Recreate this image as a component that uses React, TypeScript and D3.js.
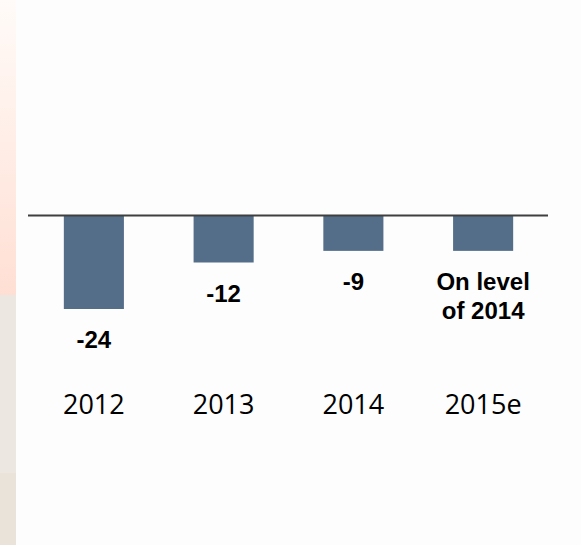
import { useEffect, useRef } from "react";
import * as d3 from "d3";

const years = ["2012", "2013", "2014", "2015e"];
const values = [-24, -12, -9, -9];
const valueLabels = [["-24"], ["-12"], ["-9"], ["On level", "of 2014"]];

const App = () => {
  const svgRef = useRef(null);

  useEffect(() => {
    if (!svgRef.current) return;
    const svg = d3.select(svgRef.current);
    svg.selectAll("*").remove();

    const width = 581;
    const height = 545;
    svg.attr("width", width).attr("height", height);

    // left decorative strip
    const defs = svg.append("defs");
    const grad = defs
      .append("linearGradient")
      .attr("id", "stripGrad")
      .attr("x1", 0)
      .attr("x2", 0)
      .attr("y1", 0)
      .attr("y2", 1);
    grad.append("stop").attr("offset", "0%").attr("stop-color", "#fffbf8");
    grad.append("stop").attr("offset", "100%").attr("stop-color", "#ffdfd4");

    svg.append("rect").attr("width", width).attr("height", height).attr("fill", "#fdfdfd");
    svg.append("rect").attr("x", 0).attr("y", 0).attr("width", 16).attr("height", 295).attr("fill", "url(#stripGrad)");
    svg.append("rect").attr("x", 0).attr("y", 295).attr("width", 16).attr("height", 178).attr("fill", "#ece8e1");
    svg.append("rect").attr("x", 0).attr("y", 473).attr("width", 16).attr("height", 72).attr("fill", "#e9e3da");

    const x = d3
      .scaleBand()
      .domain(years)
      .range([29, 548])
      .paddingInner(0.537)
      .paddingOuter(0.2685);

    const y = d3.scaleLinear().domain([-24, 0]).range([309, 216]);

    // bars
    svg
      .selectAll("rect.bar")
      .data(values)
      .join("rect")
      .attr("class", "bar")
      .attr("x", (_d, i) => x(years[i]) as number)
      .attr("y", y(0))
      .attr("width", x.bandwidth())
      .attr("height", (d) => y(d) - y(0))
      .attr("fill", "#546e8a");

    // zero line
    svg
      .append("line")
      .attr("x1", 28)
      .attr("x2", 548)
      .attr("y1", y(0) - 0.5)
      .attr("y2", y(0) - 0.5)
      .attr("stroke", "#3f3f3f")
      .attr("stroke-width", 2);

    // value labels (one text per line)
    values.forEach((v, i) => {
      const cx = (x(years[i]) as number) + x.bandwidth() / 2;
      valueLabels[i].forEach((line, j) => {
        svg
          .append("text")
          .attr("x", cx)
          .attr("y", y(v) + 39 + j * 29)
          .attr("text-anchor", "middle")
          .attr("font-family", "'Liberation Sans', Arial, sans-serif")
          .attr("font-weight", "bold")
          .attr("font-size", 24)
          .attr("fill", "#000")
          .text(line);
      });
    });

    // category labels
    svg
      .selectAll("text.cat")
      .data(years)
      .join("text")
      .attr("class", "cat")
      .attr("x", (d) => (x(d) as number) + x.bandwidth() / 2)
      .attr("y", 414)
      .attr("text-anchor", "middle")
      .attr("font-family", "'Open Sans', sans-serif")
      .attr("font-size", 27)
      .attr("fill", "#000")
      .text((d) => d);
  }, []);

  return (
    <div style={{ position: "absolute", left: 0, top: 0 }}>
      <svg ref={svgRef} style={{ display: "block" }} />
    </div>
  );
};

export default App;
